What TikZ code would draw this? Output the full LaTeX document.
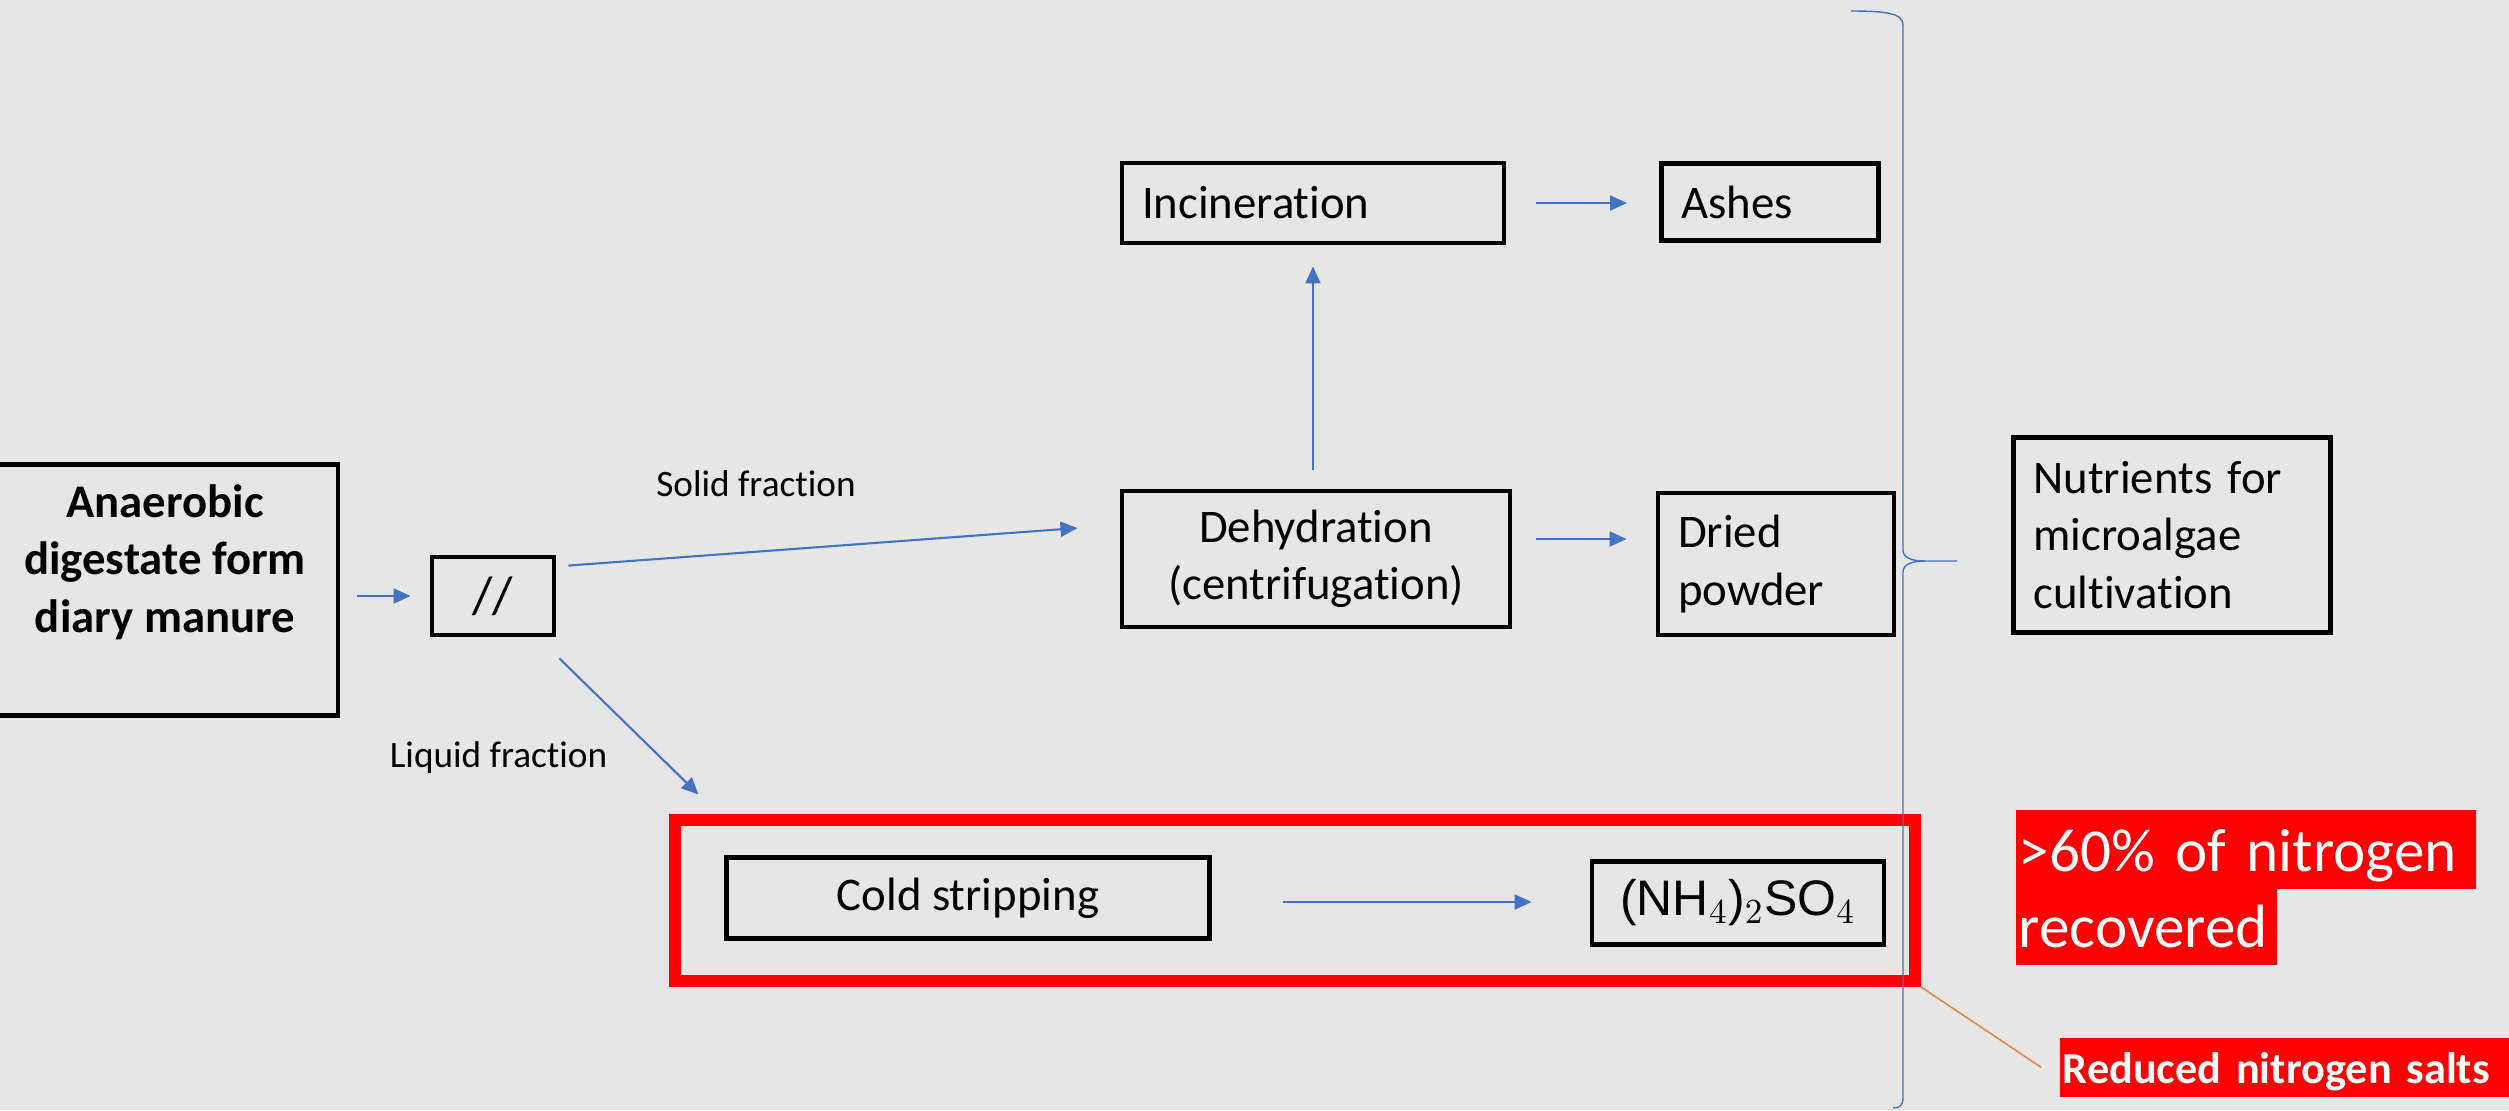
\documentclass[tikz,border=0pt]{standalone}
\usepackage{fontspec}
\setmainfont{Carlito}[Ligatures=NoCommon]
\newfontfamily\chemfont{Liberation Sans}
\usetikzlibrary{arrows.meta,positioning}
\definecolor{SlideGray}{HTML}{E7E6E6}
\definecolor{FlowBlue}{HTML}{4472C4}
\definecolor{CalloutOrange}{HTML}{ED7D31}
\definecolor{MarkRed}{HTML}{FF0000}

\begin{document}
\begin{tikzpicture}[
  box/.style={draw=black, line width=1.4pt, inner sep=0pt, align=center,
    font=\fontsize{13.3}{16.3}\selectfont},
  lbox/.style={box, align=left, inner xsep=0.2cm},
  flow/.style={-{Triangle[length=0.17cm, width=0.15cm]}, line width=0.6pt, draw=FlowBlue},
  branch/.style={anchor=base, font=\fontsize{10.6}{13}\selectfont},
  redtag/.style={fill=MarkRed, text=white, inner xsep=0.03cm, inner ysep=0pt,
    anchor=north west, align=left}
]
\fill[SlideGray] (0,0) rectangle (25.09,-11.10);
\useasboundingbox (0,0) rectangle (25.09,-11.10);

% input and separation
\node[box, minimum width=3.46cm, minimum height=2.51cm] (digest) at (1.65,-5.90) {};
\node[align=center, font=\bfseries\fontsize{13.3}{16.3}\selectfont] (digestlbl) at (1.65,-5.62) {Anaerobic\\digestate form\\diary manure};
\node[box, minimum width=1.22cm, minimum height=0.78cm, font=\fontsize{15}{18}\selectfont] (split) at (4.93,-5.96) {//};

% solid line
\node[box, minimum width=3.88cm, minimum height=1.36cm] (dehyd) at (13.16,-5.59) {Dehydration\\(centrifugation)};
\node[lbox, text width=3.42cm, minimum height=0.80cm] (incin) at (13.13,-2.03) {Incineration};
\node[lbox, text width=1.77cm, minimum height=0.77cm] (ashes) at (17.70,-2.02) {Ashes};
\node[lbox, text width=1.96cm, minimum height=1.42cm] (dried) at (17.76,-5.64) {Dried\\powder};
\node[lbox, text width=2.77cm, minimum height=1.95cm] (nutri) at (21.72,-5.35) {Nutrients for\\microalgae\\cultivation};

% liquid line
\node[draw=MarkRed, line width=3.4pt, minimum width=12.40cm, minimum height=1.61cm, inner sep=0pt] (frame) at (12.95,-9.005) {};
\node[box, minimum width=4.83cm, minimum height=0.81cm] (cold) at (9.68,-8.98) {Cold stripping};
\node[box, minimum width=2.92cm, minimum height=0.83cm, font=\chemfont\fontsize{14.2}{17}\selectfont] (salt) at (17.38,-9.03) {(NH$_4$)$_2$SO$_4$};

\node[branch] (solidlbl) at (7.56,-4.96) {Solid fraction};
\node[branch] (liquidlbl) at (4.985,-7.67) {Liquid fraction};

% connectors
\draw[flow, shorten <=0.17cm, shorten >=0.19cm] (digest.east |- split.west) -- (split.west);
\draw[flow] ([shift={(0.12,-0.11)}]split.north east) -- ([shift={(-0.42,0.31)}]dehyd.west);
\draw[flow] ([shift={(0.03,-0.21)}]split.south east) -- ([shift={(-0.255,0.605)}]cold.north west);
\draw[flow, shorten <=0.19cm, shorten >=0.21cm] (incin.south |- dehyd.north) -- (incin.south);
\draw[flow, shorten <=0.30cm, shorten >=0.32cm] (incin.east) -- (incin.east -| ashes.west);
\draw[flow, shorten <=0.24cm, shorten >=0.29cm] ([yshift=0.2cm]dehyd.east) -- ([yshift=0.2cm]dehyd.east -| dried.west);
\draw[flow, shorten <=0.71cm, shorten >=0.58cm] ([yshift=-0.04cm]cold.east) -- ([yshift=-0.04cm]cold.east -| salt.west);

% brace
\coordinate (bracetip) at (19.57,-5.61);
\draw[FlowBlue, line width=0.4pt] (18.51,-0.11) .. controls (18.85,-0.11) and (19.03,-0.13) .. (19.03,-0.25)
  -- (19.03,-5.50) .. controls (19.03,-5.58) and (19.12,-5.61) .. (19.25,-5.61) -- (bracetip);
\draw[FlowBlue, line width=0.4pt] (19.25,-5.61) .. controls (19.12,-5.61) and (19.03,-5.64) .. (19.03,-5.72)
  -- (19.03,-10.98) .. controls (19.03,-11.05) and (19.00,-11.08) .. (18.93,-11.08);

% callouts
\node[redtag, text width=4.54cm, text height=0.62cm, text depth=0.17cm, font=\fontsize{17.4}{21}\selectfont] (pct1) at (20.15,-8.09) {>60\% of nitrogen};
\node[redtag, text width=2.55cm, text height=0.59cm, text depth=0.17cm, font=\fontsize{17.4}{21}\selectfont] (pct2) at (20.15,-8.88) {recovered};
\node[redtag, text width=4.47cm, text height=0.46cm, text depth=0.13cm, font=\bfseries\fontsize{12.6}{16}\selectfont] (salts) at (20.59,-10.37) {Reduced nitrogen salts};
\draw[CalloutOrange, line width=0.4pt] (frame.south east) -- ([xshift=-0.18cm]salts.west);
\end{tikzpicture}
\end{document}
